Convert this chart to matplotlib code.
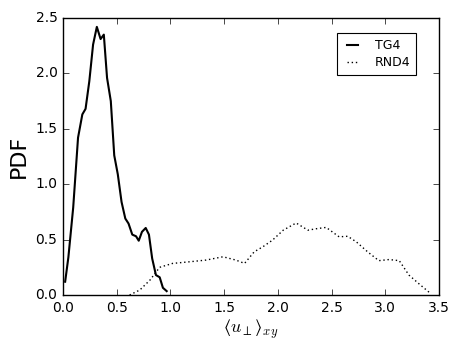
import numpy as np
import matplotlib
matplotlib.use('Agg')
import matplotlib.pyplot as plt

plt.style.use('classic')

# TG4 curve
tg4_x = [0.02, 0.05, 0.095, 0.14, 0.18, 0.21, 0.245, 0.28, 0.315, 0.35, 0.38,
         0.41, 0.445, 0.477, 0.51, 0.545, 0.58, 0.61, 0.645, 0.68, 0.705,
         0.735, 0.77, 0.80, 0.83, 0.865, 0.90, 0.93, 0.965]
tg4_y = [0.12, 0.34, 0.79, 1.42, 1.63, 1.68, 1.93, 2.26, 2.42, 2.31, 2.35,
         1.96, 1.75, 1.26, 1.09, 0.84, 0.69, 0.645, 0.545, 0.53, 0.49,
         0.57, 0.605, 0.545, 0.33, 0.18, 0.16, 0.065, 0.035]

# RND4 curve
rnd4_x = [0.62, 0.715, 0.81, 0.90, 1.02, 1.18, 1.33, 1.49, 1.61, 1.69, 1.78,
          1.86, 1.95, 2.05, 2.17, 2.28, 2.37, 2.45, 2.57, 2.65, 2.73, 2.835,
          2.94, 3.035, 3.13, 3.22, 3.315, 3.42]
rnd4_y = [0.0, 0.045, 0.135, 0.25, 0.285, 0.30, 0.315, 0.345, 0.315, 0.285,
          0.39, 0.435, 0.495, 0.585, 0.65, 0.585, 0.60, 0.61, 0.525, 0.53,
          0.48, 0.39, 0.31, 0.32, 0.31, 0.18, 0.10, 0.015]

fig = plt.figure(figsize=(4.63, 3.48), dpi=100, facecolor='white')
ax = fig.add_axes([63 / 463, 1 - 295 / 348, 376 / 463, 277 / 348])

ax.plot(tg4_x, tg4_y, color='black', lw=1.5, ls='-', label='TG4')
ax.plot(rnd4_x, rnd4_y, color='black', lw=1.0, ls=(0, (1, 2)), label='RND4')

ax.set_xlim(0, 3.5)
ax.set_ylim(0, 2.5)
ax.set_xticks(np.arange(0, 3.51, 0.5))
ax.set_yticks(np.arange(0, 2.51, 0.5))
ax.tick_params(labelsize=10)
ax.set_xlabel('$\u27e8u_\\perp\u27e9_{xy}$', fontsize=13, labelpad=2)
ax.set_ylabel('PDF', fontsize=16)

leg = ax.legend(loc='upper right', bbox_to_anchor=(0.94, 0.945),
                borderaxespad=0, fontsize=9, handlelength=1.5,
                handletextpad=1.0, borderpad=0.5, labelspacing=0.3)
leg.get_frame().set_linewidth(0.8)

fig.savefig('out.png', dpi=100, facecolor='white')
